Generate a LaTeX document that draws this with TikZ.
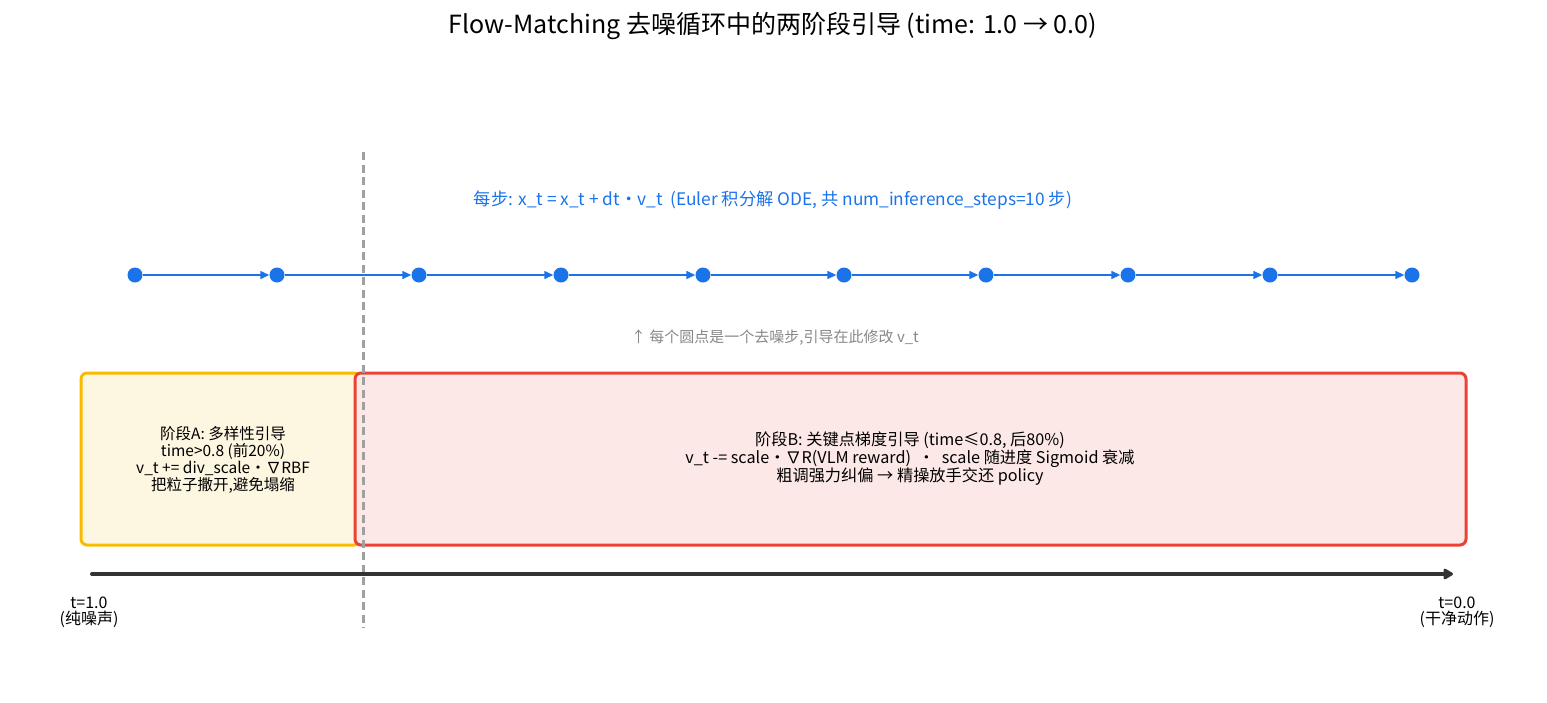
\documentclass[tikz,border=0pt]{standalone}
\usepackage{fontspec}
\setmainfont{Noto Sans CJK SC}
\usetikzlibrary{arrows.meta}
\definecolor{stepblue}{HTML}{1A73E8}
\definecolor{dashgray}{HTML}{A0A0A0}
\definecolor{afill}{HTML}{FDF6E0}
\definecolor{aline}{HTML}{F9BB00}
\definecolor{bfill}{HTML}{FCE8E6}
\definecolor{bline}{HTML}{EA4335}
\definecolor{axisdark}{HTML}{333333}
\definecolor{notegray}{HTML}{888888}
\tikzset{
  dot/.style={circle,fill=stepblue,inner sep=0pt,minimum size=15pt},
  steparrow/.style={stepblue,line width=1.4pt,-{Triangle[length=9pt,width=8pt]}},
  phasebox/.style={rounded corners=6pt,line width=3pt},
  body/.style={font=\fontsize{16.2}{17.5}\selectfont,align=center,text=black},
}
\begin{document}
\begin{tikzpicture}[x=1pt,y=-1pt]
\useasboundingbox (0,0) rectangle (1547,702);
\node[font=\fontsize{25}{28}\selectfont] (title) at (773,26) {Flow-Matching 去噪循环中的两阶段引导 (time: 1.0 → 0.0)};
% phase boxes
\draw[phasebox,fill=afill,draw=aline] (81,373) rectangle (360,545);
\node[body,font=\fontsize{15.5}{17}\selectfont] (ta) at (223,460) {阶段A: 多样性引导\\time>0.8 (前20\%)\\v\_t += div\_scale・∇RBF\\把粒子撒开,避免塌缩};
\draw[phasebox,fill=bfill,draw=bline] (355,373) rectangle (1466,545);
\node[body,font=\fontsize{16.2}{18}\selectfont] (tb) at (910,459) {阶段B: 关键点梯度引导 (time≤0.8, 后80\%)\\v\_t -= scale・∇R(VLM reward) \ ・ \ scale 随进度 Sigmoid 衰减\\粗调强力纠偏 → 精操放手交还 policy};
% formula
\node[font=\fontsize{17.3}{19}\selectfont,text=stepblue] (formula) at (773,200) {每步: x\_t = x\_t + dt・v\_t \ (Euler 积分解 ODE, 共 num\_inference\_steps=10 步)};
% dots
\foreach \i/\x in {0/135,1/277,2/419,3/561,4/703,5/844,6/986,7/1128,8/1270,9/1412}{
  \node[dot] (d\i) at (\x,275) {};
}
\foreach \i [evaluate=\i as \j using int(\i+1)] in {0,...,8}{
  \draw[steparrow] (d\i) -- (d\j);
}
% dashed divider
\coordinate (vt) at (363,152);
\coordinate (vb) at (363,628);
\draw[dashgray,line width=3pt,dash pattern=on 8pt off 4.5pt] (vt) -- (vb);
\node[font=\fontsize{15}{17}\selectfont,text=notegray] (note) at (775,338) {↑ 每个圆点是一个去噪步,引导在此修改 v\_t};
% time axis
\coordinate (a0) at (92,574);
\coordinate (a1) at (1453,574);
\draw[axisdark,line width=4pt,line cap=round,-{Triangle[length=11pt,width=12pt,round]}] (a0) -- (a1);
\node[body,font=\fontsize{16}{16.5}\selectfont] (l0) at (89,612) {t=1.0\\(纯噪声)};
\node[body,font=\fontsize{16}{16.5}\selectfont] (l1) at (1457,612) {t=0.0\\(干净动作)};
\end{tikzpicture}
\end{document}
